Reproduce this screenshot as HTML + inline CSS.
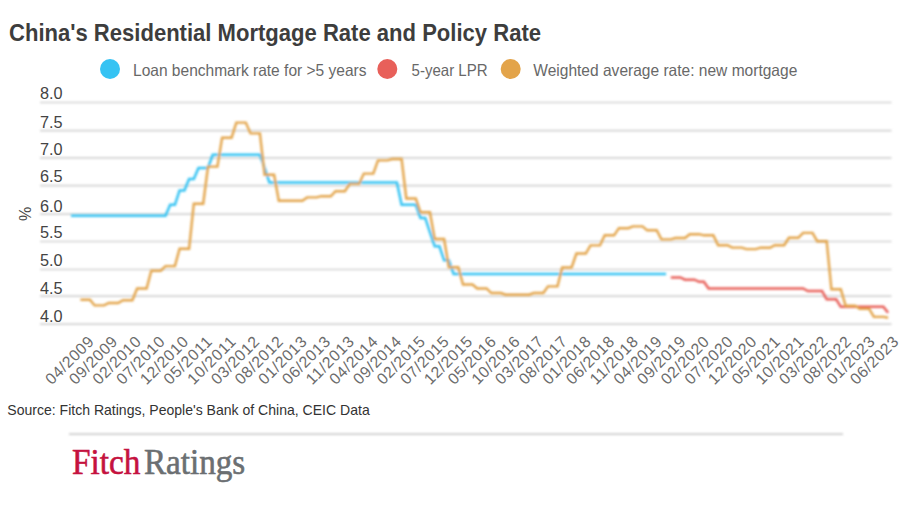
<!DOCTYPE html>
<html><head><meta charset="utf-8"><title>China's Residential Mortgage Rate and Policy Rate</title>
<style>
html,body{margin:0;padding:0;background:#fff;}
body{width:900px;height:506px;overflow:hidden;}
svg{display:block;font-family:"Liberation Sans",sans-serif;}
</style></head>
<body>
<svg width="900" height="506" viewBox="0 0 900 506">
<defs><filter id="lb" x="-5%" y="-5%" width="110%" height="110%"><feGaussianBlur stdDeviation="0.85"/></filter>
<filter id="gb" x="-2%" y="-10%" width="104%" height="120%"><feGaussianBlur stdDeviation="0.8"/></filter>
<filter id="sb" filterUnits="userSpaceOnUse" x="60" y="425" width="795" height="20"><feGaussianBlur stdDeviation="0.8"/></filter></defs>
<rect width="900" height="506" fill="#fff"/>
<text x="9" y="40.7" font-size="24" font-weight="bold" fill="#3d3d3d" textLength="532" lengthAdjust="spacingAndGlyphs">China's Residential Mortgage Rate and Policy Rate</text>
<g font-size="16.5" fill="#686868">
<circle cx="110" cy="69" r="10" fill="#35c3f3"/>
<text x="133" y="75.6" textLength="233.5" lengthAdjust="spacingAndGlyphs">Loan benchmark rate for &gt;5 years</text>
<circle cx="387.3" cy="69" r="10" fill="#e8605a"/>
<text x="411.6" y="75.6" textLength="76" lengthAdjust="spacingAndGlyphs">5-year LPR</text>
<circle cx="510.7" cy="69" r="10" fill="#e3a44a"/>
<text x="533.3" y="75.6" textLength="264" lengthAdjust="spacingAndGlyphs">Weighted average rate: new mortgage</text>
</g>
<g stroke="#d2d2d2" stroke-width="1.7" filter="url(#gb)">
<line x1="40" x2="891.5" y1="102.5" y2="102.5"/>
<line x1="40" x2="891.5" y1="130.6" y2="130.6"/>
<line x1="40" x2="891.5" y1="157.9" y2="157.9"/>
<line x1="40" x2="891.5" y1="185.6" y2="185.6"/>
<line x1="40" x2="891.5" y1="214.2" y2="214.2"/>
<line x1="40" x2="891.5" y1="241.5" y2="241.5"/>
<line x1="40" x2="891.5" y1="269.5" y2="269.5"/>
<line x1="40" x2="891.5" y1="296.2" y2="296.2"/>
<line x1="40" x2="891.5" y1="324.1" y2="324.1"/>
</g>
<g font-size="15.6" fill="#444">
<text x="40.0" y="98.8" textLength="22.6" lengthAdjust="spacingAndGlyphs">8.0</text>
<text x="40.0" y="127.6" textLength="22.6" lengthAdjust="spacingAndGlyphs">7.5</text>
<text x="40.0" y="154.5" textLength="22.6" lengthAdjust="spacingAndGlyphs">7.0</text>
<text x="40.0" y="182.1" textLength="22.6" lengthAdjust="spacingAndGlyphs">6.5</text>
<text x="40.0" y="211.9" textLength="22.6" lengthAdjust="spacingAndGlyphs">6.0</text>
<text x="40.0" y="238.0" textLength="22.6" lengthAdjust="spacingAndGlyphs">5.5</text>
<text x="40.0" y="266.2" textLength="22.6" lengthAdjust="spacingAndGlyphs">5.0</text>
<text x="40.0" y="294.1" textLength="22.6" lengthAdjust="spacingAndGlyphs">4.5</text>
<text x="40.0" y="321.7" textLength="22.6" lengthAdjust="spacingAndGlyphs">4.0</text>
</g>
<text transform="translate(31,214) rotate(-90)" font-size="16" fill="#4a4a4a" text-anchor="middle">%</text>
<g fill="none" stroke-width="2.5" stroke-linejoin="miter" stroke-linecap="butt" filter="url(#lb)">
<path stroke="#35c3f3" d="M71.0,215.8 L165.5,215.8 L170.2,204.8 L174.9,204.8 L179.6,190.4 L184.4,190.4 L189.1,179.0 L193.8,179.0 L198.5,167.9 L208.0,167.9 L212.7,154.8 L259.9,154.8 L264.6,167.9 L269.4,182.5 L396.9,182.5 L401.6,204.8 L415.8,204.8 L420.5,217.9 L425.2,217.9 L429.9,232.1 L434.7,246.3 L439.4,246.3 L444.1,260.2 L448.8,260.2 L453.6,274.0 L666.1,274.0"/>
<path stroke="#e8605a" d="M670.8,277.4 L680.3,277.4 L685.0,279.7 L694.4,279.7 L699.2,281.8 L703.9,281.8 L708.6,288.5 L803.1,288.5 L807.8,291.0 L822.0,291.0 L826.7,299.3 L836.1,299.3 L840.8,306.8 L883.4,306.8 L888.1,312.8"/>
<path stroke="#e3a44a" stroke-width="2.4" d="M80.4,299.7 L89.9,299.7 L94.6,305.4 L104.1,305.4 L108.8,303.0 L118.2,303.0 L123.0,300.3 L132.4,300.3 L137.1,288.5 L146.6,288.5 L151.3,270.8 L160.7,270.8 L165.5,266.1 L174.9,266.1 L179.6,248.7 L189.1,248.7 L193.8,203.7 L203.2,203.7 L208.0,166.6 L217.4,166.6 L222.1,137.7 L231.6,137.7 L236.3,122.6 L245.8,122.6 L250.5,133.4 L259.9,133.4 L264.6,174.7 L274.1,174.7 L278.8,200.7 L302.4,200.7 L307.1,197.4 L316.6,197.4 L321.3,196.2 L330.8,196.2 L335.5,191.2 L344.9,191.2 L349.7,183.9 L359.1,183.9 L363.8,173.6 L373.3,173.6 L378.0,160.4 L387.4,160.4 L392.2,159.0 L401.6,159.0 L406.3,198.5 L415.8,198.5 L420.5,212.3 L429.9,212.3 L434.7,239.0 L444.1,239.0 L448.8,267.2 L458.3,267.2 L463.0,284.5 L472.5,284.5 L477.2,288.5 L486.6,288.5 L491.3,293.0 L500.8,293.0 L505.5,294.7 L529.1,294.7 L533.9,293.0 L543.3,293.0 L548.0,286.4 L557.5,286.4 L562.2,267.5 L571.6,267.5 L576.4,253.5 L585.8,253.5 L590.5,245.4 L600.0,245.4 L604.7,235.3 L614.1,235.3 L618.9,228.2 L628.3,228.2 L633.0,226.4 L642.5,226.4 L647.2,230.3 L656.7,230.3 L661.4,239.4 L670.8,239.4 L675.5,238.0 L685.0,238.0 L689.7,234.2 L699.2,234.2 L703.9,235.3 L713.3,235.3 L718.1,245.2 L727.5,245.2 L732.2,247.6 L741.7,247.6 L746.4,249.1 L755.8,249.1 L760.6,247.7 L770.0,247.7 L774.7,245.2 L784.2,245.2 L788.9,237.8 L798.3,237.8 L803.1,232.9 L812.5,232.9 L817.2,241.2 L826.7,241.2 L831.4,289.3 L840.8,289.3 L845.6,305.8 L855.0,305.8 L859.7,308.9 L869.2,308.9 L873.9,316.9 L883.4,316.9 L888.1,317.8"/>
</g>
<g font-size="15.8" fill="#6c6c6c" text-anchor="end">
<text transform="translate(94.6,342.8) rotate(-45)" textLength="60.5" lengthAdjust="spacing">04/2009</text>
<text transform="translate(118.3,342.8) rotate(-45)" textLength="60.5" lengthAdjust="spacing">09/2009</text>
<text transform="translate(141.9,342.8) rotate(-45)" textLength="60.5" lengthAdjust="spacing">02/2010</text>
<text transform="translate(165.6,342.8) rotate(-45)" textLength="60.5" lengthAdjust="spacing">07/2010</text>
<text transform="translate(189.3,342.8) rotate(-45)" textLength="60.5" lengthAdjust="spacing">12/2010</text>
<text transform="translate(212.9,342.8) rotate(-45)" textLength="60.5" lengthAdjust="spacing">05/2011</text>
<text transform="translate(236.6,342.8) rotate(-45)" textLength="60.5" lengthAdjust="spacing">10/2011</text>
<text transform="translate(260.3,342.8) rotate(-45)" textLength="60.5" lengthAdjust="spacing">03/2012</text>
<text transform="translate(284.0,342.8) rotate(-45)" textLength="60.5" lengthAdjust="spacing">08/2012</text>
<text transform="translate(307.6,342.8) rotate(-45)" textLength="60.5" lengthAdjust="spacing">01/2013</text>
<text transform="translate(331.3,342.8) rotate(-45)" textLength="60.5" lengthAdjust="spacing">06/2013</text>
<text transform="translate(355.0,342.8) rotate(-45)" textLength="60.5" lengthAdjust="spacing">11/2013</text>
<text transform="translate(378.6,342.8) rotate(-45)" textLength="60.5" lengthAdjust="spacing">04/2014</text>
<text transform="translate(402.3,342.8) rotate(-45)" textLength="60.5" lengthAdjust="spacing">09/2014</text>
<text transform="translate(426.0,342.8) rotate(-45)" textLength="60.5" lengthAdjust="spacing">02/2015</text>
<text transform="translate(449.6,342.8) rotate(-45)" textLength="60.5" lengthAdjust="spacing">07/2015</text>
<text transform="translate(473.3,342.8) rotate(-45)" textLength="60.5" lengthAdjust="spacing">12/2015</text>
<text transform="translate(497.0,342.8) rotate(-45)" textLength="60.5" lengthAdjust="spacing">05/2016</text>
<text transform="translate(520.7,342.8) rotate(-45)" textLength="60.5" lengthAdjust="spacing">10/2016</text>
<text transform="translate(544.3,342.8) rotate(-45)" textLength="60.5" lengthAdjust="spacing">03/2017</text>
<text transform="translate(568.0,342.8) rotate(-45)" textLength="60.5" lengthAdjust="spacing">08/2017</text>
<text transform="translate(591.7,342.8) rotate(-45)" textLength="60.5" lengthAdjust="spacing">01/2018</text>
<text transform="translate(615.3,342.8) rotate(-45)" textLength="60.5" lengthAdjust="spacing">06/2018</text>
<text transform="translate(639.0,342.8) rotate(-45)" textLength="60.5" lengthAdjust="spacing">11/2018</text>
<text transform="translate(662.7,342.8) rotate(-45)" textLength="60.5" lengthAdjust="spacing">04/2019</text>
<text transform="translate(686.4,342.8) rotate(-45)" textLength="60.5" lengthAdjust="spacing">09/2019</text>
<text transform="translate(710.0,342.8) rotate(-45)" textLength="60.5" lengthAdjust="spacing">02/2020</text>
<text transform="translate(733.7,342.8) rotate(-45)" textLength="60.5" lengthAdjust="spacing">07/2020</text>
<text transform="translate(757.4,342.8) rotate(-45)" textLength="60.5" lengthAdjust="spacing">12/2020</text>
<text transform="translate(781.0,342.8) rotate(-45)" textLength="60.5" lengthAdjust="spacing">05/2021</text>
<text transform="translate(804.7,342.8) rotate(-45)" textLength="60.5" lengthAdjust="spacing">10/2021</text>
<text transform="translate(828.4,342.8) rotate(-45)" textLength="60.5" lengthAdjust="spacing">03/2022</text>
<text transform="translate(852.0,342.8) rotate(-45)" textLength="60.5" lengthAdjust="spacing">08/2022</text>
<text transform="translate(875.7,342.8) rotate(-45)" textLength="60.5" lengthAdjust="spacing">01/2023</text>
<text transform="translate(899.4,342.8) rotate(-45)" textLength="60.5" lengthAdjust="spacing">06/2023</text>
</g>
<text x="7.3" y="415" font-size="14.5" fill="#333" textLength="362.4" lengthAdjust="spacingAndGlyphs">Source: Fitch Ratings, People's Bank of China, CEIC Data</text>
<line x1="69" x2="843" y1="434.2" y2="434.2" stroke="#cccccc" stroke-width="1.8" filter="url(#sb)"/>
<g font-family="Liberation Serif,serif" font-size="36" stroke-width="0.6">
<text x="72" y="474.2" fill="#c5123f" stroke="#c5123f" textLength="68.3" lengthAdjust="spacingAndGlyphs">Fitch</text>
<text x="143.9" y="474.2" fill="#6b6f72" stroke="#6b6f72" textLength="101.4" lengthAdjust="spacingAndGlyphs">Ratings</text>
</g>
</svg>
</body></html>
